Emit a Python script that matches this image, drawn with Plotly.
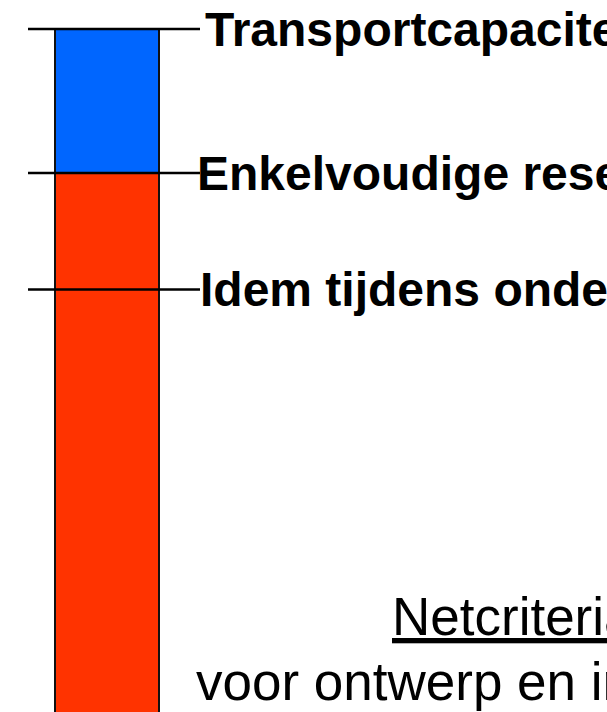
import plotly.graph_objects as go

# Data (levels relative to transport capacity = 100)
levels_names = ["Transportcapaciteit", "Enkelvoudige reserve", "Idem tijdens onderhoud"]
levels_values = [100, 79, 62]
bar_category = [0]
red_segment = [79]          # up to "Enkelvoudige reserve"
blue_segment = [21]         # remainder up to transport capacity
bottom_lines = ["<u>Netcriteria</u>", "voor ontwerp en inzet"]

W, H = 607, 712
font_family = "Liberation Sans, Arial, sans-serif"

fig = go.Figure()
fig.add_trace(go.Bar(x=bar_category, y=red_segment, width=1,
                     marker=dict(color="#FF3300", line=dict(color="#111111", width=2)),
                     showlegend=False, hoverinfo="skip"))
fig.add_trace(go.Bar(x=bar_category, y=blue_segment, width=1,
                     marker=dict(color="#0066FF", line=dict(color="#111111", width=2)),
                     showlegend=False, hoverinfo="skip"))

# horizontal level lines and labels
label_x = [205, 197, 200]
for name, val, lx in zip(levels_names, levels_values, label_x):
    fig.add_shape(type="line", xref="paper", yref="y", x0=28 / W, x1=200 / W, y0=val, y1=val,
                  line=dict(color="black", width=2.5), layer="above")
    fig.add_annotation(text="<b>" + name + "</b>", xref="paper", yref="y", x=(lx - 2) / W, y=val,
                       xanchor="left", yanchor="middle", showarrow=False,
                       font=dict(family=font_family, size=48, color="black"))

# bottom text
fig.add_annotation(text=bottom_lines[0], xref="paper", yref="paper", x=(393 - 3) / W,
                   y=1 - 616.6 / H, xanchor="left", yanchor="middle", showarrow=False,
                   font=dict(family=font_family, size=53, color="black"))
fig.add_annotation(text=bottom_lines[1], xref="paper", yref="paper", x=(197 - 3) / W,
                   y=1 - 681.6 / H, xanchor="left", yanchor="middle", showarrow=False,
                   font=dict(family=font_family, size=53, color="black"))

# axis ranges: bar spans pixels 55..159, level 100 at y=29 px, 79 at y=173 px
px_per_unit_x = 104.0
x0 = -0.5 - 55 / px_per_unit_x
x1 = x0 + W / px_per_unit_x
px_per_unit_y = 144 / 21
y1 = 100 + 29 / px_per_unit_y
y0 = y1 - H / px_per_unit_y

fig.update_layout(
    barmode="stack", width=W, height=H,
    margin=dict(l=0, r=0, t=0, b=0),
    paper_bgcolor="white", plot_bgcolor="white",
    xaxis=dict(range=[x0, x1], visible=False, fixedrange=True),
    yaxis=dict(range=[y0, y1], visible=False, fixedrange=True),
    bargap=0,
)
fig.write_html("out.html", config={"displayModeBar": False},
               post_script="document.body.style.margin='0';document.body.style.overflow='hidden';")
